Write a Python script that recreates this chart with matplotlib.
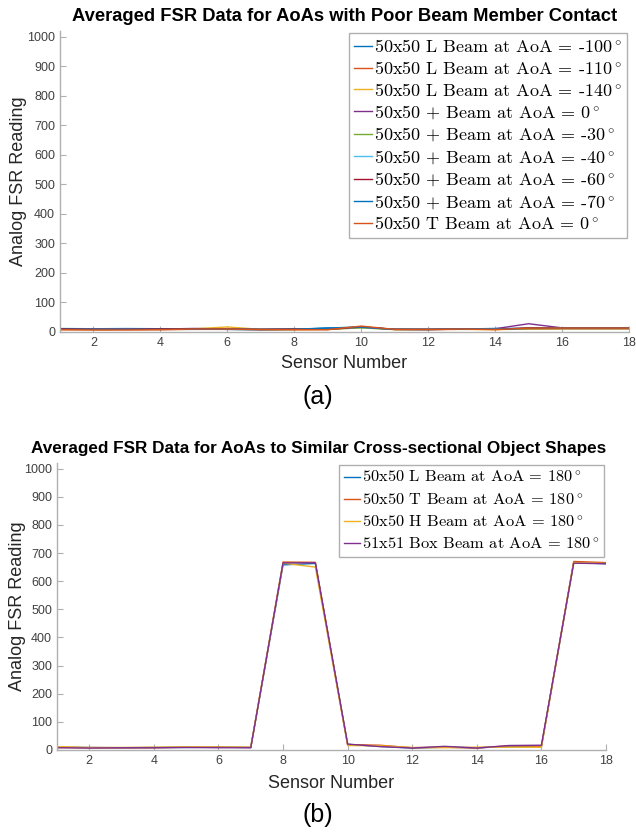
import matplotlib
matplotlib.use("Agg")
import matplotlib.pyplot as plt

# MATLAB default line colours
COLORS = ["#0072BD", "#D95319", "#EDB120", "#7E2F8E", "#77AC30",
          "#4DBEEE", "#A2142F", "#0072BD", "#D95319"]

SENSORS = list(range(1, 19))

# (a) poor beam member contact
LABELS_A = [
    "50x50 L Beam at AoA = -100$^\\circ$",
    "50x50 L Beam at AoA = -110$^\\circ$",
    "50x50 L Beam at AoA = -140$^\\circ$",
    "50x50 + Beam at AoA = 0$^\\circ$",
    "50x50 + Beam at AoA = -30$^\\circ$",
    "50x50 + Beam at AoA = -40$^\\circ$",
    "50x50 + Beam at AoA = -60$^\\circ$",
    "50x50 + Beam at AoA = -70$^\\circ$",
    "50x50 T Beam at AoA = 0$^\\circ$",
]
L100 = [10, 10, 11, 10, 10, 9, 8, 9, 14, 16, 9, 9, 10, 12, 12, 12, 12, 12]
L110 = [8, 8, 8, 8, 9, 9, 8, 8, 8, 18, 8, 8, 9, 9, 10, 11, 11, 11]
L140 = [9, 8, 9, 9, 11, 17, 9, 8, 9, 15, 8, 9, 9, 8, 10, 11, 11, 11]
P0 = [11, 11, 10, 10, 12, 10, 9, 10, 10, 16, 9, 9, 11, 11, 28, 14, 14, 14]
P30 = [10, 10, 10, 10, 10, 10, 9, 9, 9, 14, 9, 9, 10, 10, 12, 13, 13, 13]
P40 = [12, 11, 12, 11, 10, 9, 9, 9, 12, 16, 9, 9, 10, 10, 13, 13, 13, 13]
P60 = [11, 10, 10, 11, 11, 10, 9, 10, 9, 17, 9, 9, 10, 9, 14, 13, 13, 13]
P70 = [9, 9, 9, 9, 9, 9, 8, 9, 13, 17, 9, 8, 10, 9, 12, 12, 12, 12]
T0 = [8, 7, 7, 8, 10, 10, 8, 8, 8, 20, 9, 8, 10, 8, 13, 13, 13, 13]
SERIES_A = [L100, L110, L140, P0, P30, P40, P60, P70, T0]

# (b) similar cross-sectional shapes
LABELS_B = [
    "50x50 L Beam at AoA = 180$^\\circ$",
    "50x50 T Beam at AoA = 180$^\\circ$",
    "50x50 H Beam at AoA = 180$^\\circ$",
    "51x51 Box Beam at AoA = 180$^\\circ$",
]
L180 = [10, 9, 8, 9, 9, 10, 9, 658, 663, 20, 13, 7, 10, 8, 12, 12, 666, 662]
T180 = [9, 8, 8, 8, 10, 10, 9, 668, 667, 19, 17, 8, 10, 7, 15, 13, 670, 666]
H180 = [12, 9, 9, 10, 11, 10, 10, 664, 650, 16, 15, 9, 8, 10, 10, 10, 666, 663]
BOX180 = [8, 7, 8, 8, 9, 8, 8, 665, 665, 21, 12, 7, 13, 7, 16, 17, 664, 662]
SERIES_B = [L180, T180, H180, BOX180]

plt.rcParams["font.family"] = ["Liberation Sans", "DejaVu Sans"]
plt.rcParams["mathtext.fontset"] = "cm"

W, H = 636, 834
fig = plt.figure(figsize=(W / 100, H / 100), dpi=100)


def style_axes(ax, title, title_size, title_x, ylab_x, xlab_y):
    ax.set_xlim(1, 18)
    ax.set_ylim(0, 1020)
    ax.set_xticks(range(2, 19, 2))
    ax.set_yticks(range(0, 1001, 100))
    for s in ("top", "right"):
        ax.spines[s].set_visible(False)
    for s in ("left", "bottom"):
        ax.spines[s].set_color("#b0b0b0")
        ax.spines[s].set_linewidth(1.0)
    ax.tick_params(direction="in", length=4, width=0.8, color="#b0b0b0",
                   labelcolor="#404040", labelsize=9)
    ax.set_title(title, fontsize=title_size, fontweight="bold", pad=7, x=title_x)
    ax.set_xlabel("Sensor Number", fontsize=13, color="#262626")
    ax.set_ylabel("Analog FSR Reading", fontsize=13, color="#262626")
    ax.yaxis.set_label_coords(ylab_x, 0.5)
    ax.xaxis.set_label_coords(0.5, xlab_y)


def add_legend(ax, size, spacing):
    ax.legend(loc="upper right", prop={"family": "cmr10", "size": size},
              fancybox=False, framealpha=1, edgecolor="#b0b0b0",
              borderpad=0.3, labelspacing=spacing, handlelength=1.0,
              handletextpad=0.1, borderaxespad=0.1)


# ---- (a) ----
ax1 = fig.add_axes([60 / W, 1 - 332 / H, 569 / W, 301 / H])
for y, lab, c in zip(SERIES_A, LABELS_A, COLORS):
    ax1.plot(SENSORS, y, color=c, lw=1.0, label=lab)
style_axes(ax1, "Averaged FSR Data for AoAs with Poor Beam Member Contact",
           13.2, 0.5, -0.058, -0.075)
add_legend(ax1, 13, 0.26)
fig.text(0.5, 1 - 397 / H, "(a)", ha="center", va="center", fontsize=18)

# ---- (b) ----
ax2 = fig.add_axes([57 / W, 1 - 750 / H, 549 / W, 287 / H])
for y, lab, c in zip(SERIES_B, LABELS_B, COLORS):
    ax2.plot(SENSORS, y, color=c, lw=1.0, label=lab)
style_axes(ax2, "Averaged FSR Data for AoAs to Similar Cross-sectional Object Shapes",
           12.3, 0.477, -0.056, -0.087)
add_legend(ax2, 11.8, 0.38)
fig.text(0.5, 1 - 815 / H, "(b)", ha="center", va="center", fontsize=18)

fig.savefig("out.png", dpi=100)
